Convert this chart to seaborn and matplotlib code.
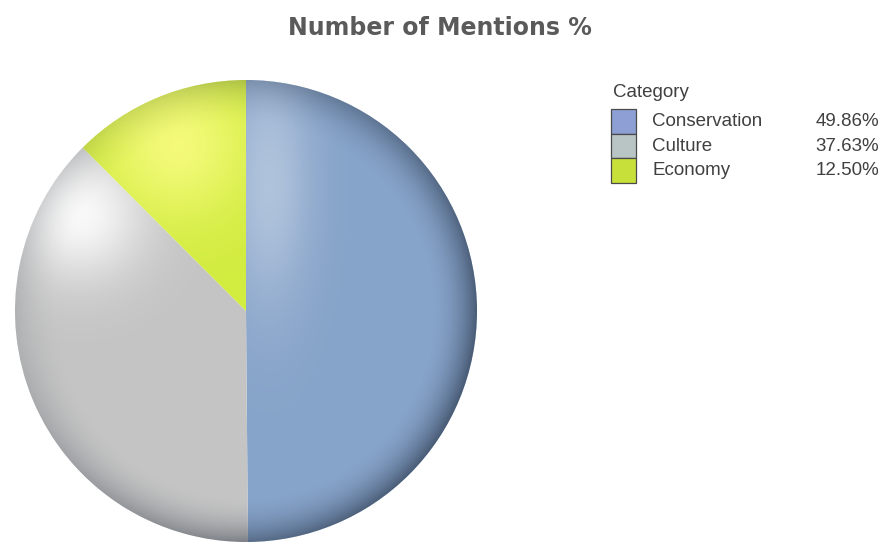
import matplotlib.pyplot as plt
import numpy as np
import seaborn as sns
from matplotlib.patches import Circle, Rectangle

# data
categories = ["Conservation", "Culture", "Economy"]
shares = [49.86, 37.63, 12.50]
pie_colors = ["#86a3c9", "#c4c4c4", "#d2ec40"]
swatch_colors = ["#8d9fd5", "#b9c4c4", "#c8e03a"]

# glossy highlight per wedge: centre, sigma x/y, strength, colour
highlights = [((0.1, 0.55), (0.13, 0.38), 0.35, (1.0, 1.0, 1.0)),
              ((-0.72, 0.42), (0.2, 0.2), 0.9, (1.0, 1.0, 1.0)),
              ((-0.3, 0.72), (0.22, 0.22), 0.75, (1.0, 1.0, 0.55))]

W, H = 883, 544


def fx(px):
    return px / W


def fy(py):
    return 1 - py / H


sns.set_theme(style="white")
plt.rcParams['font.family'] = ['Liberation Sans', 'DejaVu Sans']

fig = plt.figure(figsize=(W / 100, H / 100), dpi=100)
fig.patch.set_facecolor("white")

# pie axes: circle centre (246, 311), radius 231 px
ax = fig.add_axes([fx(15), fy(542), 462 / W, 462 / H])
wedges, _ = ax.pie(shares, colors=pie_colors, startangle=90, counterclock=False,
                   radius=1, wedgeprops=dict(linewidth=0))

# shading for the glossy look
n = 500
g = np.linspace(-1, 1, n)
X, Y = np.meshgrid(g, g)
R = np.hypot(X, Y)

for w, ((hx, hy), (sx, sy), s, c) in zip(wedges, highlights):
    img = np.zeros((n, n, 4))
    img[..., :3] = c
    img[..., 3] = s * np.exp(-((X - hx) ** 2 / (2 * sx ** 2) + (Y - hy) ** 2 / (2 * sy ** 2)))
    im = ax.imshow(img, extent=(-1, 1, -1, 1), origin="lower", zorder=3, interpolation="bilinear")
    im.set_clip_path(w)

edge = np.zeros((n, n, 4))
side = np.clip(0.32 + 0.22 * X - 0.1 * Y, 0.12, 0.6)
edge[..., 3] = np.clip((R - 0.8) / 0.2, 0, 1) ** 2 * side
edge[..., :3] = [0.1, 0.14, 0.2]
im = ax.imshow(edge, extent=(-1, 1, -1, 1), origin="lower", zorder=4, interpolation="bilinear")
im.set_clip_path(Circle((0, 0), 1, transform=ax.transData))
ax.set_xlim(-1, 1)
ax.set_ylim(-1, 1)
ax.set_aspect("equal")
ax.axis("off")

# title
fig.text(fx(440), fy(28), "Number of Mentions %", ha="center", va="center",
         fontsize=17, fontweight="bold", color="#5a5a5a", family=["DejaVu Sans"])

# legend
txt = "#404040"
fig.text(fx(613), fy(92), "Category", ha="left", va="center", fontsize=13.5, color=txt)
row_h = 24.7
for i, (cat, val, col) in enumerate(zip(categories, shares, swatch_colors)):
    top = 109 + i * row_h
    fig.patches.append(Rectangle((fx(611), fy(top + row_h)), 25 / W, row_h / H,
                                 transform=fig.transFigure, facecolor=col,
                                 edgecolor="#4a4a4a", linewidth=0.9))
    yc = fy(top + row_h / 2)
    fig.text(fx(652), yc, cat, ha="left", va="center", fontsize=13.5, color=txt)
    fig.text(fx(879), yc, f"{val:.2f}%", ha="right", va="center", fontsize=13.5, color=txt)

fig.savefig("out.png", dpi=100, facecolor="white")
plt.close(fig)
